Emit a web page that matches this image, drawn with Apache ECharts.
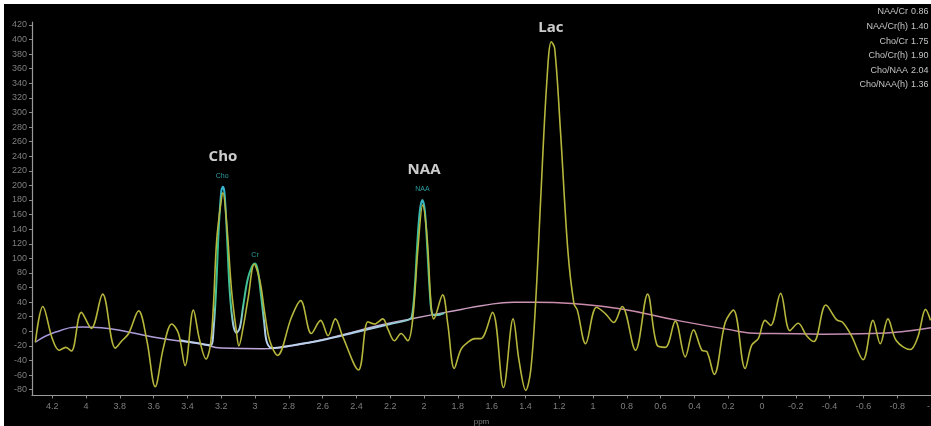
<!DOCTYPE html>
<html>
<head>
<meta charset="utf-8">
<script src="https://cdn.jsdelivr.net/npm/echarts@6/dist/echarts.min.js"></script>
<style>
html,body{margin:0;padding:0;background:#fff;width:931px;height:426px;overflow:hidden;}
#c{position:absolute;left:4px;top:4px;width:927px;height:422px;}
</style>
</head>
<body>
<div id="c"></div>
<script>
// ---- data ----
const xTicks = [4.2,4,3.8,3.6,3.4,3.2,3,2.8,2.6,2.4,2.2,2,1.8,1.6,1.4,1.2,1,0.8,0.6,0.4,0.2,0,-0.2,-0.4,-0.6,-0.8,-1];
const yTicks = [420,400,380,360,340,320,300,280,260,240,220,200,180,160,140,120,100,80,60,40,20,0,-20,-40,-60,-80];

const specPpm = [4.30,4.256,4.20,4.16,4.12,4.087,4.028,3.969,3.902,3.827,3.788,3.748,3.689,3.640,3.591,3.542,3.493,3.453,3.414,3.365,3.33,3.29,3.265,3.247,3.227,3.20,3.19,3.168,3.139,3.109,3.096,3.070,3.040,3.005,2.972,2.942,2.913,2.867,2.785,2.730,2.667,2.612,2.568,2.525,2.480,2.388,2.332,2.293,2.244,2.214,2.175,2.136,2.096,2.067,2.037,2.008,1.982,1.959,1.943,1.890,1.860,1.821,1.782,1.74,1.70,1.664,1.595,1.530,1.473,1.438,1.398,1.369,1.339,1.310,1.274,1.247,1.227,1.192,1.149,1.113,1.093,1.044,0.979,0.926,0.877,0.828,0.749,0.677,0.621,0.572,0.513,0.454,0.405,0.356,0.326,0.283,0.218,0.169,0.100,0.061,0.022,-0.018,-0.051,-0.110,-0.165,-0.214,-0.264,-0.307,-0.378,-0.441,-0.478,-0.529,-0.598,-0.657,-0.700,-0.745,-0.795,-0.877,-0.922,-0.968,-0.997];
const specVal = [-15,34,-10,-26,-22,-27,26,4,51,-23,-13,-3,28,-13,-76,-22,10,-3,-47,29,-10,-38,-20,33,125,180,190,148,56,-3,-20,6,47,92,70,24,-13,-33,19,42,-3,15,-6,17,-8,-53,13,10,17,3,-13,-3,-13,17,111,173,129,38,17,50,11,-51,-25,-15,-10,-10,26,-77,17,-40,-81,-54,42,180,340,397,388,272,111,38,29,-17,33,24,12,34,-26,51,-19,-22,14,-35,2,-26,-28,-59,12,29,-51,-19,-10,15,8,52,1,11,-6,-14,36,16,12,-6,-39,15,-17,17,-13,-25,-8,30,15];

const basePpm = [4.30,4.18,4.02,3.91,3.75,3.55,3.32,3.20,2.96,2.84,2.67,2.47,2.27,2.08,1.78,1.66,1.47,1.34,1.12,0.84,0.50,0.21,0.01,-0.06,-0.36,-0.65,-1.0];
const baseVal = [-15,-1,6,5,-1,-10,-17,-23,-24,-22,-15,-4,8,17,30,35,40,40,38,31,15,3,-3,-3,-4,-3,5];

const fitPpm = [3.45,3.30,3.262,3.245,3.23,3.215,3.20,3.19,3.18,3.165,3.15,3.13,3.11,3.09,3.07,3.045,3.02,3.00,2.985,2.965,2.945,2.93,2.90,2.80,2.60,2.40,2.20,2.09,2.072,2.055,2.04,2.025,2.01,1.995,1.98,1.965,1.952,1.93,1.88];
const fitVal = [-12,-18,-19,5,60,140,192,198,188,125,55,10,-2,5,35,70,88,93,85,50,10,-15,-23,-20,-12,-1,10,16,20,60,120,165,180,165,110,50,24,22,25];

const peakNames = ['Cho','NAA','Lac'];
const peakPpm = [3.19,2.0,1.25];
const peakVal = [239,221,416];

const fitNames = ['Cho','Cr','NAA'];
const fitLabelPpm = [3.195,3.0,2.01];
const fitLabelVal = [213,105,195];

const ratioNames = ['NAA/Cr','NAA/Cr(h)','Cho/Cr','Cho/Cr(h)','Cho/NAA','Cho/NAA(h)'];
const ratioValues = ['0.86','1.40','1.75','1.90','2.04','1.36'];

// ---- build ----
const zip = (a,b)=>a.map((v,i)=>[v,b[i]]);
const chart = echarts.init(document.getElementById('c'));
const gray = '#7e7e7e';

const graphics = [];
ratioNames.forEach((n,i)=>{
  const y = 8 + i*14.6;
  graphics.push({type:'text', x:904, y:y, style:{text:n, fill:'#c4c4c4', font:'9px "Liberation Sans", Arial', textAlign:'right', textVerticalAlign:'middle'}});
  graphics.push({type:'text', x:907, y:y, style:{text:ratioValues[i], fill:'#c4c4c4', font:'9px "Liberation Sans", Arial', textAlign:'left', textVerticalAlign:'middle'}});
});

chart.setOption({
  animation:false,
  backgroundColor:'#000',
  grid:{left:28, right:0, top:18, bottom:30.5, containLabel:false, outerBoundsMode:'none'},
  xAxis:{
    type:'value', min:-1, max:4.32, inverse:true,
    name:'ppm', nameLocation:'middle', nameGap:22,
    nameTextStyle:{color:gray, fontSize:8, fontFamily:'Liberation Sans'},
    axisLine:{show:true, onZero:false, lineStyle:{color:'#9a9a9a', width:1.2}},
    axisTick:{show:true, length:3, lineStyle:{color:'#8a8a8a'}, customValues:xTicks},
    axisLabel:{color:gray, fontSize:9, fontFamily:'Liberation Sans', margin:7, customValues:xTicks},
    splitLine:{show:false}
  },
  yAxis:{
    type:'value', min:-88, max:424,
    axisLine:{show:true, onZero:false, lineStyle:{color:'#9a9a9a', width:1.2}},
    axisTick:{show:true, length:3, lineStyle:{color:'#8a8a8a'}, customValues:yTicks},
    axisLabel:{color:gray, fontSize:9, fontFamily:'Liberation Sans', margin:5, customValues:yTicks},
    splitLine:{show:false}
  },
  graphic:graphics,
  series:[
    {type:'line', data:zip(basePpm,baseVal), smooth:0.5, showSymbol:false,
      lineStyle:{width:1.5, color:new echarts.graphic.LinearGradient(0,0,1,0,[
        {offset:0,color:'#a294d8'},{offset:0.35,color:'#c8b0d8'},{offset:0.6,color:'#cc8aa8'},{offset:1,color:'#c08cb4'}])}},
    {type:'line', data:zip(fitPpm,fitVal), smooth:0.35, showSymbol:false,
      lineStyle:{width:2, color:new echarts.graphic.LinearGradient(0,0,0,1,[
        {offset:0,color:'#3ab4d4'},{offset:0.4,color:'#32be8c'},{offset:0.72,color:'#48c49a'},{offset:0.86,color:'#a8cce4'},{offset:1,color:'#c4d2f0'}])}},
    {type:'line', data:zip(specPpm,specVal), smooth:0.35, showSymbol:false,
      lineStyle:{width:1.6, color:'#b6b63c'}},
    {type:'scatter', data:zip(peakPpm,peakVal).map((p,i)=>({value:p, name:peakNames[i]})), symbolSize:0,
      label:{show:true, position:'inside', formatter:'{b}', color:'#ffffff', fontSize:15, fontWeight:'bold', fontFamily:'Open Sans'}},
    {type:'scatter', data:zip(fitLabelPpm,fitLabelVal).map((p,i)=>({value:p, name:fitNames[i]})), symbolSize:0,
      label:{show:true, position:'inside', formatter:'{b}', color:'#38c0c4', fontSize:7, fontFamily:'Liberation Sans'}}
  ]
});
</script>
</body>
</html>
